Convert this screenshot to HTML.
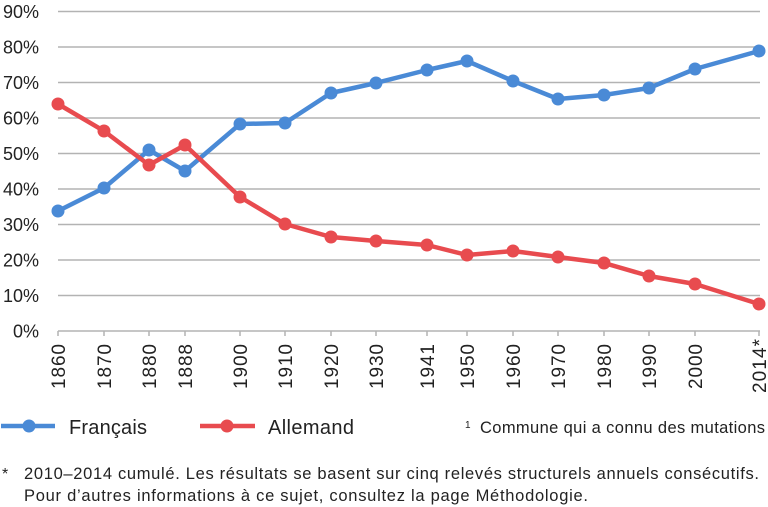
<!DOCTYPE html>
<html><head><meta charset="utf-8"><style>
html,body{margin:0;padding:0;background:#fff;}
svg{display:block;font-family:"Liberation Sans",sans-serif;}
</style></head><body>
<svg width="768" height="507" viewBox="0 0 768 507" xmlns="http://www.w3.org/2000/svg">
<g stroke="#b3b3b3" stroke-width="1.5">
<line x1="58" x2="760" y1="11.5" y2="11.5"/>
<line x1="58" x2="760" y1="47" y2="47"/>
<line x1="58" x2="760" y1="82.5" y2="82.5"/>
<line x1="58" x2="760" y1="118" y2="118"/>
<line x1="58" x2="760" y1="153.5" y2="153.5"/>
<line x1="58" x2="760" y1="189" y2="189"/>
<line x1="58" x2="760" y1="224.5" y2="224.5"/>
<line x1="58" x2="760" y1="260" y2="260"/>
<line x1="58" x2="760" y1="295.5" y2="295.5"/>
<line x1="58" x2="760" y1="331" y2="331"/>
</g>
<g stroke="#b3b3b3" stroke-width="1.5">
<line x1="58" x2="58" y1="331" y2="336"/><line x1="104" x2="104" y1="331" y2="336"/><line x1="149" x2="149" y1="331" y2="336"/><line x1="185" x2="185" y1="331" y2="336"/><line x1="240" x2="240" y1="331" y2="336"/><line x1="285" x2="285" y1="331" y2="336"/><line x1="331" x2="331" y1="331" y2="336"/><line x1="376" x2="376" y1="331" y2="336"/><line x1="427" x2="427" y1="331" y2="336"/><line x1="467" x2="467" y1="331" y2="336"/><line x1="513" x2="513" y1="331" y2="336"/><line x1="558" x2="558" y1="331" y2="336"/><line x1="604" x2="604" y1="331" y2="336"/><line x1="649" x2="649" y1="331" y2="336"/><line x1="695" x2="695" y1="331" y2="336"/><line x1="759" x2="759" y1="331" y2="336"/>
</g>
<g font-size="18" fill="#222" text-anchor="end">
<text x="39" y="18">90%</text><text x="39" y="53.5">80%</text><text x="39" y="89">70%</text><text x="39" y="124.5">60%</text><text x="39" y="160">50%</text><text x="39" y="195.5">40%</text><text x="39" y="231">30%</text><text x="39" y="266.5">20%</text><text x="39" y="302">10%</text><text x="39" y="337.5">0%</text>
</g>
<g font-size="19" fill="#222" text-anchor="end">
<text transform="translate(65,344) rotate(-90)" textLength="45">1860</text>
<text transform="translate(111,344) rotate(-90)" textLength="45">1870</text>
<text transform="translate(156,344) rotate(-90)" textLength="45">1880</text>
<text transform="translate(192,344) rotate(-90)" textLength="45">1888</text>
<text transform="translate(247,344) rotate(-90)" textLength="45">1900</text>
<text transform="translate(292,344) rotate(-90)" textLength="45">1910</text>
<text transform="translate(338,344) rotate(-90)" textLength="45">1920</text>
<text transform="translate(383,344) rotate(-90)" textLength="45">1930</text>
<text transform="translate(434,344) rotate(-90)" textLength="45">1941</text>
<text transform="translate(474,344) rotate(-90)" textLength="45">1950</text>
<text transform="translate(520,344) rotate(-90)" textLength="45">1960</text>
<text transform="translate(565,344) rotate(-90)" textLength="45">1970</text>
<text transform="translate(611,344) rotate(-90)" textLength="45">1980</text>
<text transform="translate(656,344) rotate(-90)" textLength="45">1990</text>
<text transform="translate(702,344) rotate(-90)" textLength="45">2000</text>
<text transform="translate(766,339) rotate(-90)" textLength="54">2014*</text>
</g>
<g fill="none" stroke-width="4.5" stroke-linejoin="round">
<polyline stroke="#4a8ad6" points="58,211 104,188 149,150 185,171 240,124 285,123 331,93 376,83 427,70 467,61 513,81 558,99 604,95 649,88 695,69 759,51"/>
<polyline stroke="#e84b4f" points="58,104 104,131 149,165 185,145 240,197 285,224 331,237 376,241 427,245 467,255 513,251 558,257 604,263 649,276 695,284 759,304"/>
</g>
<g fill="#4a8ad6">
<circle cx="58" cy="211" r="6.5"/><circle cx="104" cy="188" r="6.5"/><circle cx="149" cy="150" r="6.5"/><circle cx="185" cy="171" r="6.5"/><circle cx="240" cy="124" r="6.5"/><circle cx="285" cy="123" r="6.5"/><circle cx="331" cy="93" r="6.5"/><circle cx="376" cy="83" r="6.5"/><circle cx="427" cy="70" r="6.5"/><circle cx="467" cy="61" r="6.5"/><circle cx="513" cy="81" r="6.5"/><circle cx="558" cy="99" r="6.5"/><circle cx="604" cy="95" r="6.5"/><circle cx="649" cy="88" r="6.5"/><circle cx="695" cy="69" r="6.5"/><circle cx="759" cy="51" r="6.5"/>
</g>
<g fill="#e84b4f">
<circle cx="58" cy="104" r="6.5"/><circle cx="104" cy="131" r="6.5"/><circle cx="149" cy="165" r="6.5"/><circle cx="185" cy="145" r="6.5"/><circle cx="240" cy="197" r="6.5"/><circle cx="285" cy="224" r="6.5"/><circle cx="331" cy="237" r="6.5"/><circle cx="376" cy="241" r="6.5"/><circle cx="427" cy="245" r="6.5"/><circle cx="467" cy="255" r="6.5"/><circle cx="513" cy="251" r="6.5"/><circle cx="558" cy="257" r="6.5"/><circle cx="604" cy="263" r="6.5"/><circle cx="649" cy="276" r="6.5"/><circle cx="695" cy="284" r="6.5"/><circle cx="759" cy="304" r="6.5"/>
</g>
<line x1="1" x2="55" y1="426" y2="426" stroke="#4a8ad6" stroke-width="4.5"/>
<circle cx="29" cy="426" r="6.5" fill="#4a8ad6"/>
<text x="69" y="434" font-size="20" fill="#222" textLength="78">Français</text>
<line x1="200" x2="255" y1="426" y2="426" stroke="#e84b4f" stroke-width="4.5"/>
<circle cx="227" cy="426" r="6.5" fill="#e84b4f"/>
<text x="268" y="434" font-size="20" fill="#222" textLength="86">Allemand</text>
<text x="465" y="428" font-size="10" fill="#222">1</text>
<text x="480" y="433" font-size="16.5" fill="#222" textLength="285">Commune qui a connu des mutations</text>
<text x="2" y="479" font-size="16" fill="#222">*</text>
<text x="24" y="479" font-size="16.5" fill="#222" textLength="735">2010–2014 cumulé. Les résultats se basent sur cinq relevés structurels annuels consécutifs.</text>
<text x="24" y="501" font-size="16.5" fill="#222" textLength="564">Pour d’autres informations à ce sujet, consultez la page Méthodologie.</text>
</svg>
</body></html>
